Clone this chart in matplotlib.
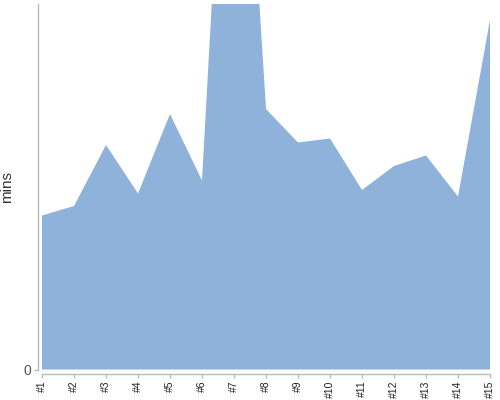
import matplotlib
matplotlib.use("Agg")
import matplotlib.pyplot as plt

labels = ["#1", "#2", "#3", "#4", "#5", "#6", "#7", "#8", "#9", "#10",
          "#11", "#12", "#13", "#14", "#15"]
mins = [15.4, 16.35, 22.45, 17.6, 25.55, 18.9, 77.0, 26.05, 22.7, 23.1,
        17.95, 20.35, 21.4, 17.3, 34.95]

plt.rcParams['font.family'] = ['Liberation Sans', 'DejaVu Sans']

fig = plt.figure(figsize=(5, 4), dpi=100)
ax = fig.add_axes([42 / 500, 30.5 / 400, 448 / 500, 365.5 / 400])

x = list(range(len(mins)))
ax.fill_between(x, 0, mins, color='#8fb2da', linewidth=0)
ax.set_xlim(0, len(mins) - 1)
ax.set_ylim(0, 36.55)

off = 4 * 72 / 100
for s in ['top', 'right']:
    ax.spines[s].set_visible(False)
ax.spines['left'].set_position(('outward', off))
ax.spines['bottom'].set_position(('outward', off))
for s in ['left', 'bottom']:
    ax.spines[s].set_color('#bbbbbb')
    ax.spines[s].set_linewidth(1)

ax.set_xticks(x)
ax.set_xticklabels(labels, rotation=90, fontsize=7.5)
ax.set_yticks([0])
ax.set_yticklabels(['0'], fontsize=10)
ax.tick_params(axis='both', colors='#bbbbbb', length=3, width=1, pad=2)
ax.tick_params(axis='x', labelcolor='#222222')
ax.tick_params(axis='y', labelcolor='#555555')
ax.set_ylabel('mins', fontsize=11, color='#333333')
ax.yaxis.set_label_coords(-0.0625, 0.5)

fig.savefig('out.png', dpi=100)
